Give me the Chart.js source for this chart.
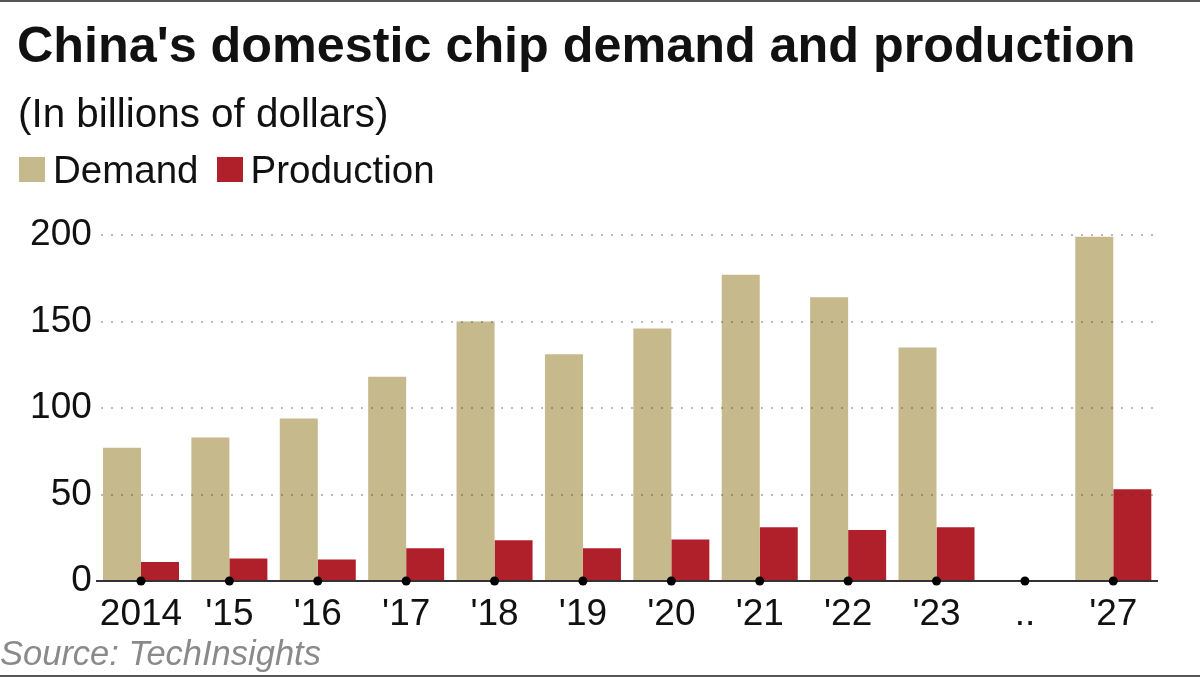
<!DOCTYPE html>
<html>
<head>
<meta charset="utf-8">
<script src="https://cdn.jsdelivr.net/npm/chart.js@4.4.1/dist/chart.umd.min.js"></script>
<style>
body{margin:0;background:#fff;font-family:"Liberation Sans",Arial,sans-serif;color:#111}
#wrap{position:relative;width:1200px;height:677px;overflow:hidden;background:#fff}
#grafico{position:absolute;left:0;top:0}
.txt{position:absolute;white-space:nowrap}
#titulo{left:17px;top:20px;font-size:50.3px;font-weight:bold;line-height:50px}
#subtitulo{left:18px;top:93px;font-size:40.4px;line-height:40px}
#leyenda{left:19px;top:151px;height:37px;display:flex;align-items:center;font-size:38.5px;line-height:37px}
.item{display:flex;align-items:center;margin-right:18px}
.caja{width:26px;height:25px;margin-right:8px}
#fuente{left:0;top:637px;font-size:34.5px;line-height:33px;font-style:italic;color:#8a8a8a}
.linea{position:absolute;left:0;width:1200px;height:2px;background:#555}
</style>
</head>
<body>
<div id="wrap">
  <canvas id="grafico" width="1200" height="677"></canvas>
  <div class="linea" style="top:0"></div>
  <div class="linea" style="top:675px"></div>
  <div class="txt" id="titulo">China's domestic chip demand and production</div>
  <div class="txt" id="subtitulo">(In billions of dollars)</div>
  <div class="txt" id="leyenda"></div>
  <div class="txt" id="fuente">Source: TechInsights</div>
</div>
<script>
// datos (miles de millones de dolares)
var categorias = ["2014","'15","'16","'17","'18","'19","'20","'21","'22","'23","..","'27"];
var demanda    = [77, 83, 94, 118, 150, 131, 146, 177, 164, 135, null, 199];
var produccion = [11, 13, 12.5, 19, 23.5, 19, 24, 31, 29.5, 31, null, 53];
var ticksY     = [0, 50, 100, 150, 200];

var colorDemanda = "#c6b98b";
var colorProduccion = "#b0202b";
var fuenteEje = {family:"'Liberation Sans', Arial, sans-serif", size:37};

// puntos negros sobre el eje x en cada categoria
var puntosEje = {
  id:'puntosEje',
  afterDatasetsDraw: function(chart){
    var ctx = chart.ctx, ejeX = chart.scales.x, ejeY = chart.scales.y;
    ctx.save();
    ctx.fillStyle = "#000";
    for(var i=0;i<categorias.length;i++){
      ctx.beginPath();
      ctx.arc(ejeX.getPixelForValue(i), ejeY.getPixelForValue(0), 4.5, 0, Math.PI*2);
      ctx.fill();
    }
    ctx.restore();
  }
};

var barra = new Chart(document.getElementById("grafico"), {
  type: 'bar',
  data: {
    labels: categorias,
    datasets: [
      {label:"Demand", data:demanda, backgroundColor:colorDemanda},
      {label:"Production", data:produccion, backgroundColor:colorProduccion}
    ]
  },
  options: {
    responsive:false,
    animation:false,
    devicePixelRatio:1,
    events:[],
    layout:{padding:{left:0, right:42.5, top:235, bottom:36}},
    datasets:{bar:{categoryPercentage:0.86, barPercentage:1.0}},
    plugins:{legend:{display:false}, title:{display:false}, tooltip:{enabled:false}},
    scales:{
      x:{
        grid:{display:false, drawTicks:false},
        border:{display:true, color:"#333", width:2},
        ticks:{color:"#111", font:fuenteEje, padding:12, maxRotation:0, autoSkip:false},
        afterFit:function(s){ s.height = 60; }
      },
      y:{
        min:0, max:200,
        afterBuildTicks:function(s){ s.ticks = ticksY.map(function(v){ return {value:v}; }); },
        grid:{
          z:1,
          drawTicks:false,
          lineWidth:2,
          // semitransparente para que se vea encima de las barras
          color:function(c){ return c.tick && c.tick.value===0 ? "rgba(0,0,0,0)" : "rgba(60,60,60,0.35)"; }
        },
        border:{display:false, dash:[2,8], dashOffset:-4},
        ticks:{color:"#111", font:fuenteEje, padding:5},
        afterFit:function(s){ s.width = 96.8; }
      }
    }
  },
  plugins:[puntosEje]
});

// leyenda en html a partir de los datasets
var htmlLeyenda = "";
barra.data.datasets.forEach(function(ds){
  htmlLeyenda += "<span class='item'><span class='caja' style='background:"+ds.backgroundColor+"'></span><span>"+ds.label+"</span></span>";
});
document.getElementById("leyenda").innerHTML = htmlLeyenda;
</script>
</body>
</html>
